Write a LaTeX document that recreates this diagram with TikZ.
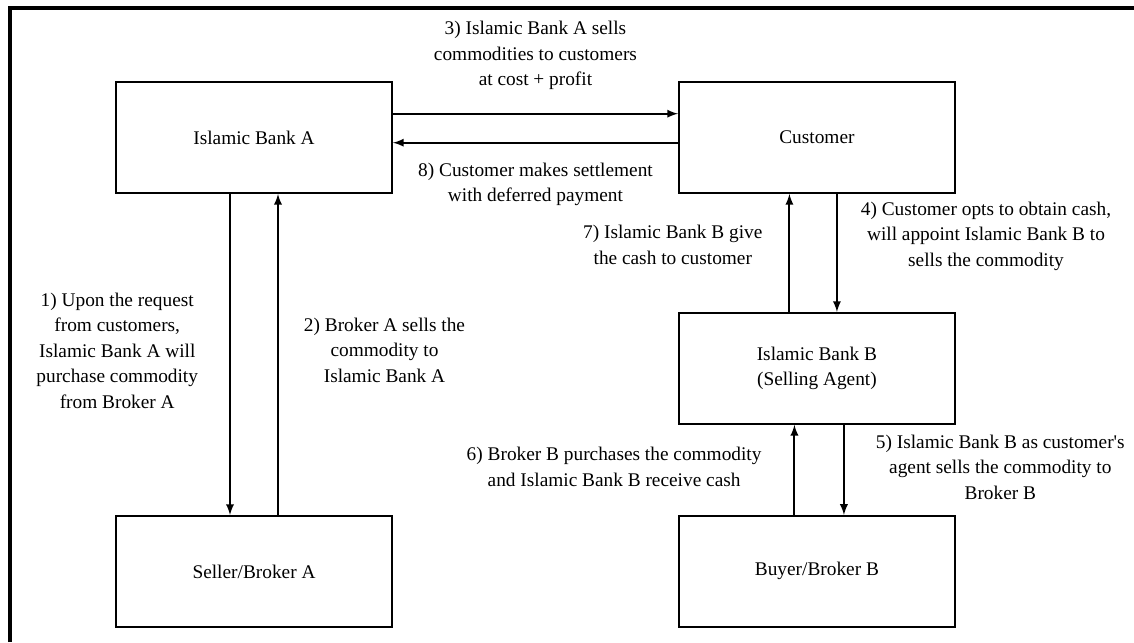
\documentclass[tikz,border=0pt]{standalone}
\usepackage{fontspec}
\setmainfont{Liberation Serif}
\usetikzlibrary{arrows, positioning}

\begin{document}
\begin{tikzpicture}[-latex, line width=1.1pt, font=\fontsize{11}{14.5}\selectfont,
  box/.style={draw, minimum width=5.52cm, minimum height=2.22cm, align=center},
  note/.style={align=center, inner sep=0pt}]
  \useasboundingbox (0,0) rectangle (22.68,-12.84);
  % frame
  \draw[-, line width=2.3pt] (0.2,-12.84) -- (0.2,-0.16) -- (22.68,-0.16);

  \node[box] (bankA) at (5.08,-2.75) {Islamic Bank A};
  \node[box] (cust) [right=5.7cm of bankA] {Customer};
  \node[box] (sellerA) [below=6.42cm of bankA] {Seller/Broker A};
  \node[box] (bankB) [below=2.36cm of cust] {Islamic Bank B\\(Selling Agent)};
  \node[box] (buyerB) [below=1.8cm of bankB] {Buyer/Broker B};

  \path ([yshift=0.476cm]bankA.east) edge node[note, above=0.46cm] {3) Islamic Bank A sells\\commodities to customers\\at cost + profit} ([yshift=0.476cm]cust.west);
  \path ([yshift=-0.104cm]cust.west) edge node[note, below=0.38cm] {8) Customer makes settlement\\with deferred payment} ([yshift=-0.104cm]bankA.east);

  \path ([xshift=-0.48cm]bankA.south) edge node[note, left=0.62cm, yshift=0.08cm] {1) Upon the request\\from customers,\\Islamic Bank A will\\purchase commodity\\from Broker A} ([xshift=-0.48cm]sellerA.north);
  \path ([xshift=0.48cm]sellerA.north) edge node[note, right=0.5cm, yshift=0.09cm] {2) Broker A sells the\\commodity to\\Islamic Bank A} ([xshift=0.48cm]bankA.south);

  \path ([xshift=0.40cm]cust.south) edge node[note, right=0.46cm, yshift=0.34cm] {4) Customer opts to obtain cash,\\will appoint Islamic Bank B to\\sells the commodity} ([xshift=0.40cm]bankB.north);
  \path ([xshift=0.54cm]bankB.south) edge node[note, right=0.62cm, yshift=0.06cm] {5) Islamic Bank B as customer\textquotesingle s\\agent sells the commodity to\\Broker B} ([xshift=0.54cm]buyerB.north);
  \path ([xshift=-0.45cm]buyerB.north) edge node[note, left=0.64cm, yshift=0.06cm] {6) Broker B purchases the commodity\\and Islamic Bank B receive cash} ([xshift=-0.45cm]bankB.south);
  \path ([xshift=-0.55cm]bankB.north) edge node[note, left=0.52cm, yshift=0.16cm] {7) Islamic Bank B give\\the cash to customer} ([xshift=-0.55cm]cust.south);
\end{tikzpicture}
\end{document}
